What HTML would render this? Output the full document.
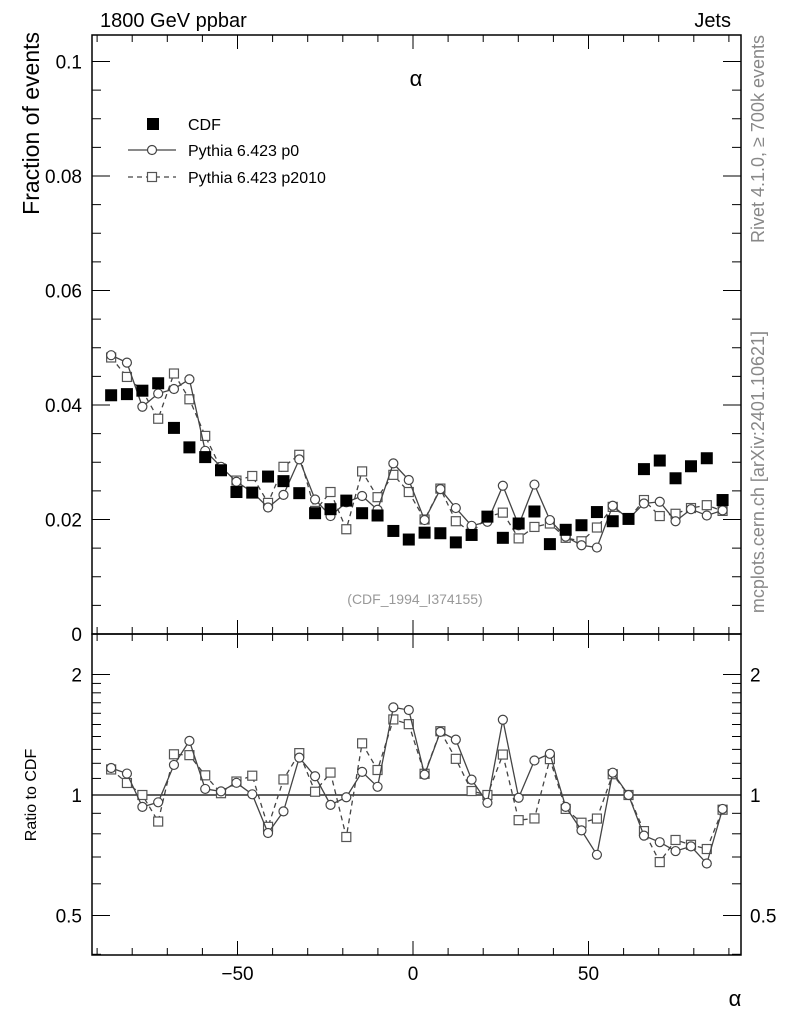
<!DOCTYPE html>
<html><head><meta charset="utf-8"><style>
body{margin:0;background:#fff;font-family:"Liberation Sans",sans-serif}
svg text{font-family:"Liberation Sans","DejaVu Sans",sans-serif}
</style></head><body>
<svg id="c" width="786" height="1024" xmlns="http://www.w3.org/2000/svg"></svg>
<script>
const alphaCenters=[-86.0,-81.5,-77.1,-72.6,-68.1,-63.7,-59.2,-54.7,-50.3,-45.8,-41.3,-36.9,-32.4,-27.9,-23.5,-19.0,-14.5,-10.1,-5.6,-1.2,3.3,7.8,12.2,16.7,21.2,25.6,30.1,34.6,39.0,43.5,48.0,52.4,56.9,61.4,65.8,70.3,74.8,79.2,83.7,88.2];
const cdfValues=[0.0417,0.0419,0.0425,0.0438,0.0360,0.0326,0.0309,0.0286,0.0248,0.0247,0.0275,0.0267,0.0246,0.0211,0.0218,0.0233,0.0211,0.0207,0.0180,0.0165,0.0177,0.0176,0.0160,0.0173,0.0205,0.0168,0.0193,0.0214,0.0157,0.0182,0.0190,0.0213,0.0197,0.0201,0.0288,0.0303,0.0272,0.0293,0.0307,0.0234];
const p0Values=[0.0487,0.0474,0.0397,0.0420,0.0428,0.0445,0.0320,0.0292,0.0266,0.0248,0.0221,0.0243,0.0305,0.0235,0.0206,0.0230,0.0241,0.0217,0.0298,0.0269,0.0199,0.0253,0.0220,0.0189,0.0196,0.0259,0.0190,0.0261,0.0199,0.0170,0.0155,0.0151,0.0224,0.0201,0.0228,0.0231,0.0197,0.0218,0.0207,0.0216];
const p2010Values=[0.0483,0.0449,0.0425,0.0376,0.0455,0.0410,0.0346,0.0289,0.0268,0.0276,0.0229,0.0292,0.0313,0.0215,0.0248,0.0183,0.0284,0.0239,0.0278,0.0248,0.0200,0.0254,0.0197,0.0177,0.0205,0.0212,0.0167,0.0187,0.0193,0.0168,0.0162,0.0186,0.0222,0.0201,0.0234,0.0206,0.0210,0.0220,0.0225,0.0215];
const mainYTicks=[0,0.02,0.04,0.06,0.08,0.1];
const mainYLabels=["0","0.02","0.04","0.06","0.08","0.1"];
const xTicks=[-50,0,50];
const xLabels=["\u221250","0","50"];
const ratioTicks=[0.5,1,2];
const ratioLabels=["0.5","1","2"];

const S=document.getElementById('c');const NS='http://www.w3.org/2000/svg';
function mk(t,a,p){const e=document.createElementNS(NS,t);for(const k in a)e.setAttribute(k,a[k]);(p||S).appendChild(e);return e;}
const L=92,R=741,T=35,MB=634,RB=955;
const xs=v=>413+v*3.51;
const ys=v=>634-v*5725;
const yr=r=>795-120.5*Math.log2(r);

let f1=mk('rect',{x:L,y:T,width:R-L,height:MB-T,fill:'none',stroke:'#000','stroke-width':1.5});


let f2=mk('rect',{x:L,y:MB,width:R-L,height:RB-MB,fill:'none',stroke:'#000','stroke-width':1.5});



for(let v=-90;v<=90;v+=10){
  const x=xs(v);const maj=v%50===0;const len=maj?14:7;
  for(const [yb,dir] of [[MB,-1],[T,1],[RB,-1],[MB,1]]){
    mk('line',{x1:x,x2:x,y1:yb,y2:yb+dir*len,stroke:'#000','stroke-width':1});
  }
}
xTicks.forEach((v,i)=>{
  const t=mk('text',{x:xs(v),y:980,'font-size':19,'text-anchor':'middle'});t.textContent=xLabels[i];
  
  
});
for(let v=0;v<=0.1001;v+=0.005){
  const y=ys(v);const maj=Math.abs(v/0.02-Math.round(v/0.02))<1e-6;const len=maj?18:9;
  mk('line',{x1:L,x2:L+len,y1:y,y2:y,stroke:'#000'});
  mk('line',{x1:R,x2:R-len,y1:y,y2:y,stroke:'#000'});
}
mainYTicks.forEach((v,i)=>{
  const t=mk('text',{x:82,y:ys(v)+7,'font-size':19,'text-anchor':'end'});t.textContent=mainYLabels[i];
  
  
});
[0.4,0.5,0.6,0.7,0.8,0.9,1,1.1,1.2,1.3,1.4,1.5,1.6,1.7,1.8,1.9,2].forEach(v=>{
  const y=yr(v);const maj=ratioTicks.includes(v);const len=maj?18:9;
  mk('line',{x1:L,x2:L+len,y1:y,y2:y,stroke:'#000'});
  mk('line',{x1:R,x2:R-len,y1:y,y2:y,stroke:'#000'});
});
ratioTicks.forEach((v,i)=>{
  let t=mk('text',{x:82,y:yr(v)+7,'font-size':19,'text-anchor':'end'});t.textContent=ratioLabels[i];
  
  
  t=mk('text',{x:750,y:yr(v)+7,'font-size':19,'text-anchor':'start'});t.textContent=ratioLabels[i];
  
  
});
let ref=mk('line',{x1:L,x2:R,y1:yr(1),y2:yr(1),stroke:'#000','stroke-width':1.3});



function series(vals,ymap,dash,marker,name){
  const g=mk('g',{});
  
  
  const pts=vals.map((v,i)=>[xs(alphaCenters[i]),ymap(v,i)]);
  mk('polyline',{points:pts.map(p=>p.join(',')).join(' '),fill:'none',stroke:'#444','stroke-width':1.3,'stroke-dasharray':dash},g);
  pts.forEach(p=>{
    let m;
    if(marker==='c')m=mk('circle',{cx:p[0],cy:p[1],r:4.5,fill:'#fff',stroke:'#444','stroke-width':1.2},g);
    else m=mk('rect',{x:p[0]-4.5,y:p[1]-4.5,width:9,height:9,fill:'#fff',stroke:'#555','stroke-width':1.2},g);
    
    
  });
}
series(p2010Values,v=>ys(v),'5,4','s','series-pythia-p2010');
series(p0Values,v=>ys(v),'none','c','series-pythia-p0');
const gc=mk('g',{});


cdfValues.forEach((v,i)=>{
  const m=mk('rect',{x:xs(alphaCenters[i])-6,y:ys(v)-6,width:12,height:12,fill:'#000'},gc);
  
  
});
series(p2010Values,(v,i)=>yr(v/cdfValues[i]),'5,4','s','ratio-pythia-p2010');
series(p0Values,(v,i)=>yr(v/cdfValues[i]),'none','c','ratio-pythia-p0');

function txt(s,a,name){const t=mk('text',a);t.textContent=s;
  
  return t;}
txt('1800 GeV ppbar',{x:100,y:27,'font-size':20},'beam-label');
txt('Jets',{x:731,y:27,'font-size':20,'text-anchor':'end'},'process-label');
txt('Fraction of events',{x:0,y:0,'font-size':23,'text-anchor':'end',transform:'translate(39,32) rotate(-90)'},'y-axis-title');
txt('Ratio to CDF',{x:0,y:0,'font-size':16,'text-anchor':'middle',transform:'translate(36,795) rotate(-90)'},'ratio-axis-title');
txt('α',{x:416,y:86,'font-size':22,'text-anchor':'middle'},'plot-title');
txt('α',{x:735,y:1006,'font-size':22,'text-anchor':'middle'},'x-axis-title');
txt('(CDF_1994_I374155)',{x:415,y:604,'font-size':14,'text-anchor':'middle',fill:'#999'},'analysis-id');
txt('Rivet 4.1.0, ≥ 700k events',{x:0,y:0,'font-size':18,'text-anchor':'end',fill:'#888',transform:'translate(764,35) rotate(-90)'},'rivet-label');
txt('mcplots.cern.ch [arXiv:2401.10621]',{x:0,y:0,'font-size':18,'text-anchor':'end',fill:'#888',transform:'translate(764,331) rotate(-90)'},'mcplots-label');
const lg=mk('g',{});


mk('rect',{x:147,y:118,width:12,height:12,fill:'#000'},lg);
mk('line',{x1:128,x2:176,y1:150,y2:150,stroke:'#444','stroke-width':1.3},lg);
mk('circle',{cx:152,cy:150,r:4.5,fill:'#fff',stroke:'#444','stroke-width':1.2},lg);
mk('line',{x1:128,x2:176,y1:177,y2:177,stroke:'#444','stroke-width':1.3,'stroke-dasharray':'5,4'},lg);
mk('rect',{x:147.5,y:172.5,width:9,height:9,fill:'#fff',stroke:'#555','stroke-width':1.2},lg);
txt('CDF',{x:188,y:130,'font-size':16},'legend-entry-cdf');
txt('Pythia 6.423 p0',{x:188,y:156,'font-size':16},'legend-entry-p0');
txt('Pythia 6.423 p2010',{x:188,y:183,'font-size':16},'legend-entry-p2010');
</script>
</body></html>
